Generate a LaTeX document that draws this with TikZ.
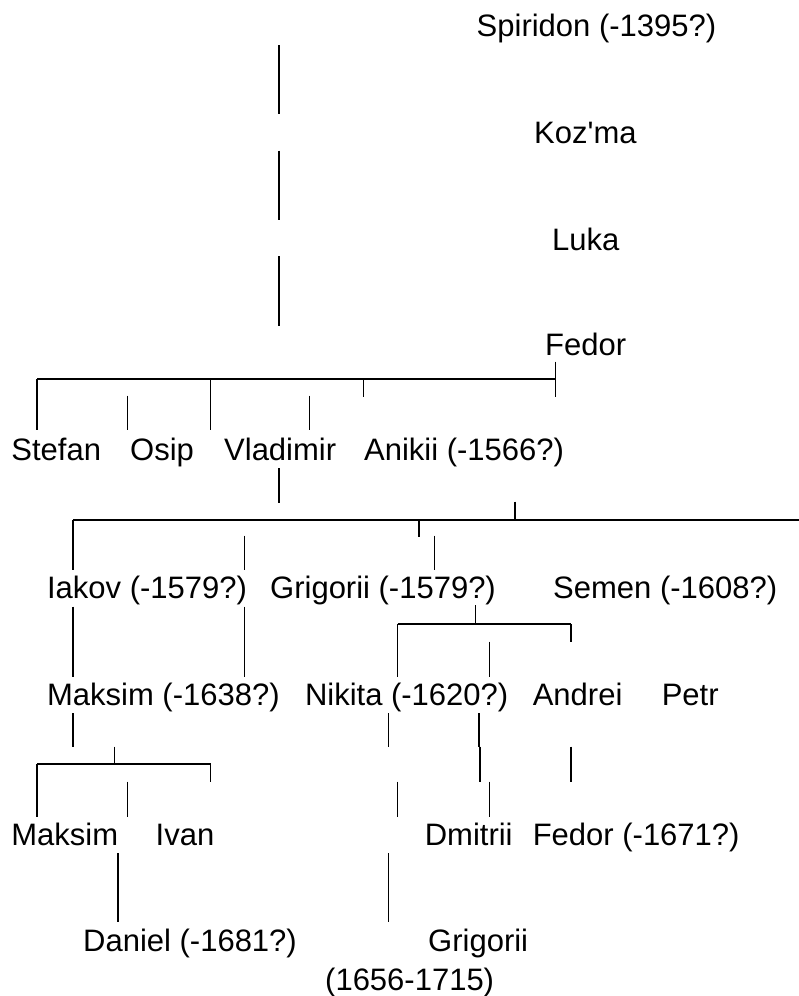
\documentclass[tikz,border=0pt]{standalone}
\usepackage{fontspec}
\setmainfont{Liberation Sans}
\begin{document}
\begin{tikzpicture}[x=1pt,y=-1pt,
  lab/.style={anchor=base west,inner sep=0pt,font=\fontsize{31}{37}\selectfont},
  vl/.style={line width=1.5pt,black},
  hl/.style={line width=2pt,black}]
\useasboundingbox (0,0) rectangle (799,996);
% names
\node[lab] (spiridon) at (476.5,36.7) {Spiridon (-1395?)};
\node[lab] (kozma) at (534,143.3) {Koz\textquotesingle ma};
\node[lab] (luka) at (552,250) {Luka};
\node[lab] (fedor) at (545,355) {Fedor};
\node[lab] (stefan) at (11.2,460) {Stefan};
\node[lab] (osip) at (130,460) {Osip};
\node[lab] (vladimir) at (224,460) {Vladimir};
\node[lab] (anikii) at (364,460) {Anikii (-1566?)};
\node[lab] (iakov) at (46.9,598.3) {Iakov (-1579?)};
\node[lab] (grigorii) at (270,598.3) {Grigorii (-1579?)};
\node[lab] (semen) at (553,598.3) {Semen (-1608?)};
\node[lab] (maksimA) at (46.9,705) {Maksim (-1638?)};
\node[lab] (nikita) at (304.8,705) {Nikita (-1620?)};
\node[lab] (andrei) at (532.6,705) {Andrei};
\node[lab] (petr) at (661.6,705) {Petr};
\node[lab] (maksimB) at (11.2,845) {Maksim};
\node[lab] (ivan) at (155.5,845) {Ivan};
\node[lab] (dmitrii) at (424.6,845) {Dmitrii};
\node[lab] (fedorB) at (532.6,845) {Fedor (-1671?)};
\node[lab] (daniel) at (83,951.7) {Daniel (-1681?)};
\node[lab] (grigoriiB) at (428,951.7) {Grigorii};
\node[lab] (years) at (325,990) {(1656-1715)};
% horizontal bars
\draw[hl] (37.2,379.3) -- (555.6,379.3);
\draw[hl] (72.9,520) -- (799,520);
\draw[hl] (397.6,624) -- (570.8,624);
\draw[hl] (37.2,764) -- (210.5,764);
% vertical lines
\foreach \x/\a/\b in {278.8/45/114, 278.8/150.7/220, 278.8/256/326,
  555.6/361.7/396.7, 37.2/379/430, 127.4/395.7/430, 210.5/379/430, 309.4/395.7/430, 363.4/379/396.7,
  278.8/468/502.7, 514.8/501.7/520, 72.9/520/570, 244.6/535.7/570, 419/520/537.3, 434.3/535.7/570,
  72.9/606.7/676.7, 244.6/606.7/676.7, 475.5/605/624, 397.6/624/676.7, 489.3/641.7/676.7, 570.8/624/641.7,
  72.9/713.3/747.3, 388.4/713.3/747.3, 479.1/713.3/747.3, 114.7/746.7/764,
  37.2/764/816.7, 127.4/781.7/816.7, 210.5/764/781.7, 397.6/781.7/816.7, 480.1/746.7/781.7, 489.3/781.7/816.7, 570.8/746.7/781.7,
  118.2/853.3/921.7, 388.4/853.3/921.7}
  \draw[vl] (\x,\a) -- (\x,\b);
\end{tikzpicture}
\end{document}
